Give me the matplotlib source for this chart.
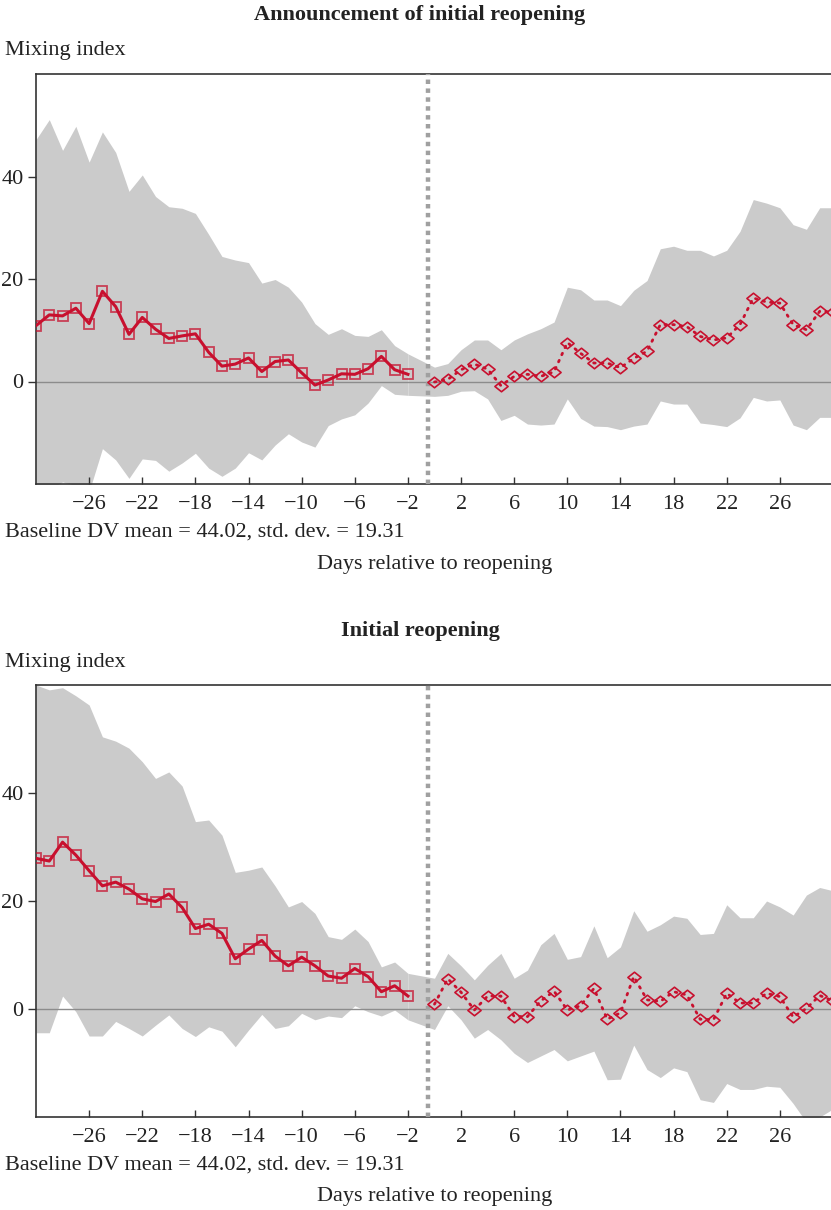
import numpy as np
import matplotlib
matplotlib.use('Agg')
import matplotlib.pyplot as plt
from matplotlib.path import Path

plt.rcParams['font.family'] = ['Liberation Serif', 'DejaVu Serif']
plt.rcParams['mathtext.fontset'] = 'stix'

# days relative to reopening (day -1 is the omitted reference day)
pre_days = list(range(-30, -1))
post_days = list(range(0, 31))

# panel 1: announcement of initial reopening
ann_pre = [10.9, 13.0, 12.8, 14.3, 11.3, 17.6, 14.6, 9.2, 12.5, 10.2, 8.4, 8.9, 9.3, 5.7,
           3.0, 3.4, 4.6, 1.95, 3.9, 4.2, 1.7, -0.7, 0.3, 1.5, 1.4, 2.5, 4.9, 2.3, 1.4]
ann_post = [-0.1, 0.4, 2.3, 3.4, 2.4, -0.8, 1.0, 1.4, 1.0, 1.9, 7.6, 5.5, 3.6, 3.6, 2.7,
            4.5, 5.9, 11.1, 11.1, 10.7, 8.8, 8.1, 8.5, 11.1, 16.3, 15.5, 15.3, 11.1, 10.1,
            13.7, 13.5]
ann_hi_pre = [47.2, 51.1, 45.1, 49.8, 42.8, 48.7, 44.7, 37.1, 40.3, 36.1, 34.1, 33.8, 32.8,
              28.7, 24.4, 23.7, 23.2, 19.2, 19.9, 18.4, 15.5, 11.3, 9.2, 10.3, 9.0, 8.8,
              10.1, 7.0, 5.4]
ann_lo_pre = [-22.0, -21.0, -19.6, -20.3, -21.5, -13.1, -15.3, -18.9, -15.1, -15.4, -17.5,
              -15.9, -14.0, -16.9, -18.5, -16.9, -13.9, -15.3, -12.4, -10.2, -11.8, -12.8,
              -8.6, -7.3, -6.5, -4.2, -0.8, -2.5, -2.7]
ann_hi_post = [2.8, 3.5, 6.2, 8.1, 8.1, 6.2, 8.1, 9.3, 10.3, 11.6, 18.4, 17.9, 15.9, 15.9,
               14.8, 17.8, 19.7, 25.9, 26.4, 25.6, 25.6, 24.5, 25.6, 29.3, 35.5, 34.8, 33.9,
               30.6, 29.7, 33.9, 33.9]
ann_lo_post = [-2.9, -2.7, -1.9, -1.8, -3.4, -7.6, -6.6, -8.3, -8.5, -8.3, -3.4, -7.2, -8.7,
               -8.8, -9.4, -8.7, -8.3, -3.8, -4.4, -4.4, -8.1, -8.4, -8.8, -7.1, -3.1, -3.8,
               -3.6, -8.5, -9.4, -7.0, -7.0]

# panel 2: initial reopening
reo_pre = [27.9, 27.4, 30.9, 28.5, 25.6, 22.8, 23.5, 22.2, 20.4, 19.9, 21.3, 18.8, 14.9,
           15.7, 14.0, 9.3, 11.1, 12.7, 9.8, 8.0, 9.6, 8.0, 6.1, 5.7, 7.5, 6.0, 3.2, 4.3, 2.4]
reo_post = [0.9, 5.6, 3.1, -0.2, 2.4, 2.4, -1.4, -1.4, 1.5, 3.3, -0.2, 0.6, 3.8, -1.9, -0.7,
            6.0, 1.7, 1.4, 3.2, 2.6, -1.9, -2.0, 2.9, 1.1, 1.1, 2.9, 2.3, -1.5, 0.1, 2.5, 1.5]
reo_hi_pre = [60.0, 59.1, 59.5, 58.0, 56.3, 50.4, 49.6, 48.3, 45.8, 42.7, 43.9, 41.3, 34.7,
              35.0, 32.2, 25.3, 25.7, 26.3, 22.8, 18.9, 19.9, 17.7, 13.4, 12.9, 14.8, 12.5,
              7.8, 8.7, 6.6]
reo_lo_pre = [-4.4, -4.4, 2.4, -0.5, -5.0, -5.0, -2.3, -3.6, -5.0, -3.0, -1.1, -3.6, -5.1,
              -3.3, -4.1, -7.0, -3.9, -1.0, -3.6, -3.1, -0.8, -2.0, -1.3, -1.6, 0.6, -0.5,
              -1.3, -0.2, -2.0]
reo_hi_post = [5.7, 10.3, 8.0, 5.4, 8.1, 10.3, 5.7, 7.2, 11.9, 14.0, 9.2, 9.7, 15.4, 9.5,
               11.5, 18.2, 14.4, 15.6, 17.2, 16.8, 13.8, 14.0, 19.3, 16.9, 16.9, 20.0, 18.9,
               17.4, 21.1, 22.5, 21.9]
reo_lo_post = [-3.8, 0.6, -2.0, -5.4, -3.8, -5.7, -8.2, -9.9, -8.7, -7.5, -9.6, -8.7, -7.8,
               -13.1, -13.0, -6.7, -11.2, -12.7, -10.9, -11.6, -16.8, -17.3, -13.8, -14.9,
               -14.9, -14.3, -14.5, -17.5, -21.0, -20.0, -18.5]

panels = [
    ("Announcement of initial reopening", ann_pre, ann_post, ann_hi_pre, ann_lo_pre,
     ann_hi_post, ann_lo_post),
    ("Initial reopening", reo_pre, reo_post, reo_hi_pre, reo_lo_pre, reo_hi_post, reo_lo_post),
]
xticks = [-26, -22, -18, -14, -10, -6, -2, 2, 6, 10, 14, 18, 22, 26]
yticks = [0, 20, 40]
note = "Baseline DV mean = 44.02, std. dev. = 19.31"

red = '#c8102e'
band = '#cbcbcb'
diamond = Path([(-1, 0), (0, 0.8), (1, 0), (0, -0.8), (-1, 0)],
               [Path.MOVETO, Path.LINETO, Path.LINETO, Path.LINETO, Path.CLOSEPOLY])

fig = plt.figure(figsize=(8.31, 12.1), dpi=100)
W, H = 831.0, 1210.0
# axes boxes in pixels: (left, top, right, bottom)
boxes = [(36, 74, 831, 484), (36, 685, 831, 1117)]
text_y = [(15, 50, 532, 565), (631, 662, 1165, 1196)]

for (title, pre, post, hi_pre, lo_pre, hi_post, lo_post), box, ty in zip(panels, boxes, text_y):
    l, t, r, b = box
    ax = fig.add_axes([l / W, 1 - b / H, (r - l) / W, (b - t) / H])
    ax.fill_between(pre_days, lo_pre, hi_pre, color=band, lw=0)
    ax.fill_between([pre_days[-1], post_days[0]], [lo_pre[-1], lo_post[0]],
                    [hi_pre[-1], hi_post[0]], color=band, lw=0)
    ax.fill_between(post_days, lo_post, hi_post, color=band, lw=0)
    ax.axhline(0, color='#8c8c8c', lw=1.0, zorder=2)
    ax.axvline(-0.5, color='#a0a0a0', lw=3.2, linestyle=(0, (1, 1)), zorder=3)

    ax.plot(pre_days, pre, color=red, lw=2.2, zorder=4)
    ax.plot(pre_days, pre, ls='none', marker='s', ms=7, mfc='none', mec=red, mew=1.3,
            alpha=0.75, zorder=5)
    ax.plot(post_days, post, color=red, lw=2.0, ls=(0, (0.6, 2.2)),
            dash_capstyle='round', zorder=4)
    ax.plot(post_days, post, ls='none', marker=diamond, ms=9.5, mfc='none', mec=red,
            mew=1.2, zorder=5)

    ax.set_xlim(-30, 29.85)
    ax.set_ylim(-20, 60)
    ax.set_xticks(xticks)
    ax.set_xticklabels([str(v).replace('-', '\u2212') for v in xticks])
    ax.set_yticks(yticks)
    ax.tick_params(axis='x', direction='in', length=5, width=1, colors='#333333',
                   labelsize=16, pad=8, labelcolor='#222222')
    ax.tick_params(axis='y', direction='out', length=6, width=1, colors='#333333',
                   labelsize=16, pad=3, labelcolor='#222222')
    for side in ['left', 'bottom', 'top']:
        ax.spines[side].set_color('#333333')
        ax.spines[side].set_linewidth(1.2)
    ax.spines['right'].set_visible(False)

    fig.text(420 / W, 1 - ty[0] / H, title, ha='center', va='center', fontsize=16,
             fontweight='bold', color='#222222')
    fig.text(5 / W, 1 - ty[1] / H, "Mixing index", ha='left', va='center', fontsize=16,
             color='#222222')
    fig.text(5 / W, 1 - ty[2] / H, note, ha='left', va='center', fontsize=16,
             color='#222222')
    fig.text(435 / W, 1 - ty[3] / H, "Days relative to reopening", ha='center',
             va='center', fontsize=16, color='#222222')

fig.savefig('out.png', dpi=100)
